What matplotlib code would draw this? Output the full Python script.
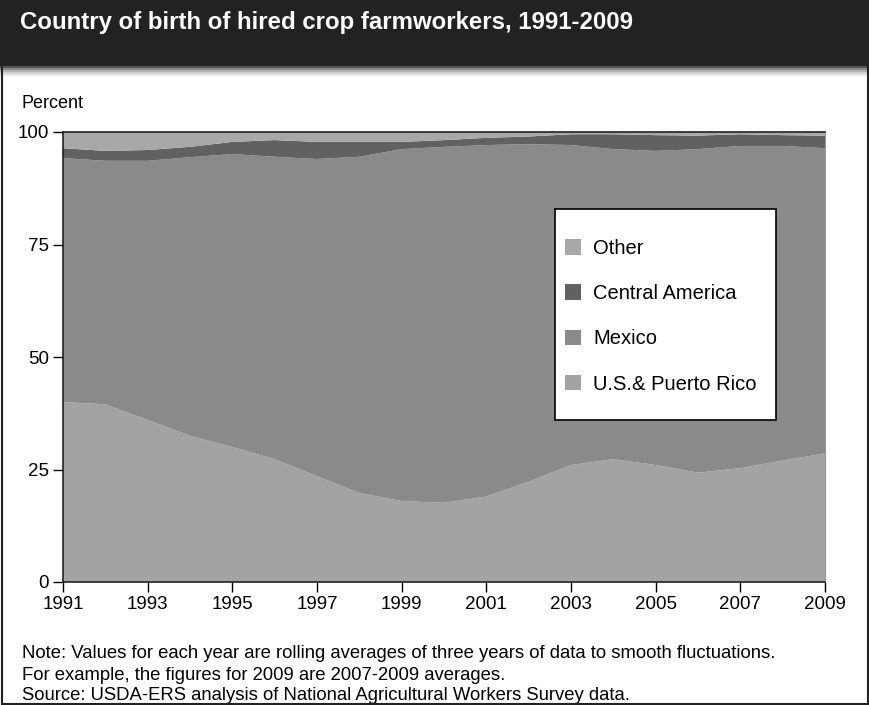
import numpy as np
import matplotlib.pyplot as plt
from matplotlib.patches import Rectangle, Patch

plt.rcParams['font.family'] = ['Liberation Sans', 'DejaVu Sans']

years = list(range(1991, 2010))
# shares in percent
us_pr = [40.0, 39.5, 36.0, 32.5, 30.0, 27.3, 23.5, 19.8, 18.0, 17.6,
         19.0, 22.3, 26.0, 27.3, 26.0, 24.3, 25.3, 27.0, 28.6]
mexico = [54.2, 54.1, 57.6, 61.9, 65.1, 67.2, 70.5, 74.7, 78.2, 79.1,
          78.1, 75.0, 71.1, 68.9, 69.8, 71.9, 71.6, 69.9, 67.8]
central_am = [2.2, 2.2, 2.4, 2.3, 2.7, 3.7, 3.8, 3.3, 1.6, 1.5,
              1.6, 1.7, 2.4, 3.3, 3.5, 3.0, 2.6, 2.4, 2.8]
other = [100 - a - b - c for a, b, c in zip(us_pr, mexico, central_am)]

labels = ["U.S.& Puerto Rico", "Mexico", "Central America", "Other"]
colors = ["#a3a3a3", "#8a8a8a", "#616161", "#a8a8a8"]

fig = plt.figure(figsize=(8.7, 7.05), dpi=100)

# title band with a soft shadow
fig.patches.append(Rectangle((0, 1 - 66 / 705), 1, 66 / 705, transform=fig.transFigure,
                             facecolor="#222222", edgecolor="none", zorder=0))
for i, g in enumerate(["#555555", "#888888", "#b0b0b0", "#d0d0d0", "#e8e8e8"]):
    fig.patches.append(Rectangle((0, 1 - (68 + 2 * i) / 705), 1, 2 / 705,
                                 transform=fig.transFigure, facecolor=g,
                                 edgecolor="none", zorder=0))
fig.patches.append(Rectangle((0.002, 0.001), 0.996, 0.998, transform=fig.transFigure,
                             facecolor="none", edgecolor="#222222", linewidth=1.5, zorder=5))
fig.text(20 / 870, 1 - 23 / 705, "Country of birth of hired crop farmworkers, 1991-2009",
         color="white", fontsize=17.3, fontweight="bold", va="center", ha="left")

ax = fig.add_axes([63 / 870, 1 - 582 / 705, (825 - 63) / 870, (582 - 132) / 705])
ax.stackplot(years, us_pr, mexico, central_am, other, colors=colors, linewidth=0)
ax.set_xlim(1991, 2009)
ax.set_ylim(0, 100)
ax.set_xticks(range(1991, 2010, 2))
ax.set_yticks([0, 25, 50, 75, 100])
ax.tick_params(labelsize=13.5, length=7, width=1, direction="out", colors="black", pad=3)
for s in ["left", "bottom", "top"]:
    ax.spines[s].set_color("#222222")
    ax.spines[s].set_linewidth(1.2)
ax.spines["right"].set_color("#999999")

fig.text(22 / 870, 1 - 104 / 705, "Percent", fontsize=13, va="center", ha="left")

# legend box drawn separately so its padding can match the original
ax.add_patch(Rectangle(((555 - 63) / 762, (582 - 420) / 450), 221 / 762, 211 / 450,
                       transform=ax.transAxes, facecolor="white", edgecolor="black",
                       linewidth=1.2, zorder=3))
handles = [Patch(facecolor=c, edgecolor="none") for c in colors[::-1]]
leg = ax.legend(handles, labels[::-1], loc="upper left",
                bbox_to_anchor=((565 - 63) / 762, (582 - 239) / 450),
                fontsize=14.5, frameon=False, handlelength=0.8, handleheight=0.8,
                labelspacing=1.3, borderpad=0, handletextpad=0.6,
                borderaxespad=0)
leg.set_zorder(4)

notes = ["Note: Values for each year are rolling averages of three years of data to smooth fluctuations.",
         "For example, the figures for 2009 are 2007-2009 averages.",
         "Source: USDA-ERS analysis of National Agricultural Workers Survey data."]
for i, t in enumerate(notes):
    fig.text(22 / 870, 1 - (654 + 21 * i) / 705, t, fontsize=13.3, va="center", ha="left")

plt.savefig("out.png", dpi=100)
